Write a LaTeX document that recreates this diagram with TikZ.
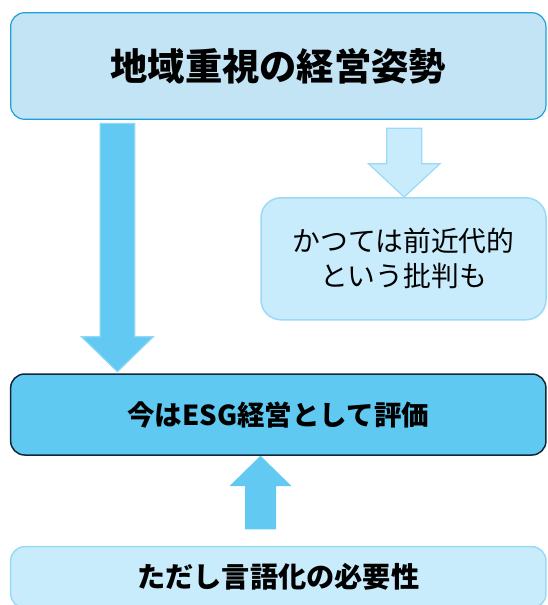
\documentclass[tikz,border=0pt]{standalone}
\usepackage{fontspec}
\setmainfont{Noto Sans CJK JP}
\usetikzlibrary{calc}
\definecolor{topfill}{HTML}{C2E4F4}
\definecolor{topline}{HTML}{1EA0DA}
\definecolor{midfill}{HTML}{5FC9F2}
\definecolor{midline}{HTML}{10293A}
\definecolor{palefill}{HTML}{C8ECFB}
\definecolor{paleline}{HTML}{9BD9F6}
\definecolor{arrfill}{HTML}{62C9F2}
\definecolor{arrline}{HTML}{8FD8F6}
\tikzset{
  box/.style={rounded corners=14pt, line width=1.2pt, inner sep=0pt, align=center, text=black},
  topbox/.style={box, fill=topfill, draw=topline, minimum width=535.3pt, minimum height=106.6pt, font=\fontsize{37.3}{44}\selectfont\bfseries},
  midbox/.style={box, fill=midfill, draw=midline, line width=1.5pt, minimum width=535.3pt, minimum height=81pt, font=\fontsize{27.5}{32}\selectfont\bfseries},
  sidebox/.style={box, rounded corners=20pt, fill=palefill, draw=paleline, line width=1.5pt, minimum width=285pt, minimum height=122pt, font=\fontsize{27.8}{35}\selectfont},
  botbox/.style={box, fill=palefill, draw=paleline, line width=1.5pt, minimum width=535.3pt, minimum height=61pt, font=\fontsize{28.2}{32}\selectfont\bfseries},
  bigarrow/.style={fill=arrfill, draw=arrline, line width=1.2pt, line join=miter},
  palearrow/.style={fill=palefill, draw=paleline, line width=1.2pt, line join=miter},
  uparrow/.style={fill=arrfill, draw=none}
}
% #1 style, #2 start coord, #3 end coord, #4 shaft half width, #5 head half width, #6 head length (signed, toward start)
\newcommand{\myblockarrow}[6]{%
  \draw[#1] let \p1=(#2), \p2=(#3) in
    (\x1-#4,\y1) -- (\x1+#4,\y1) -- (\x1+#4,\y2#6) -- (\x1+#5,\y2#6) --
    (\x2,\y2) -- (\x1-#5,\y2#6) -- (\x1-#4,\y2#6) -- cycle;}
\begin{document}
\begin{tikzpicture}[x=1pt,y=-1pt]
\useasboundingbox (0,0) rectangle (547,605);
\clip (0,0) rectangle (547,605);
\node[topbox] (top) at (278.3,66) {地域重視の経営姿勢};
\node[sidebox] (side) at (403.5,258.8) {かつては前近代的\\という批判も};
\node[midbox] (mid) at (278.3,414.5) {今はESG経営として評価};
\node[botbox] (bot) at (278.3,577.2) {ただし言語化の必要性};
% left long arrow
\path (117.4,123.5) coordinate (las) (117.4,371.7) coordinate (lae);
\myblockarrow{bigarrow}{las}{lae}{17.3pt}{36pt}{+35pt}
% small arrow to side box
\path (404.2,128.3) coordinate (sas);
\coordinate (sae) at (side.north -| sas);
\myblockarrow{palearrow}{sas}{sae}{17.5pt}{35.8pt}{+33.4pt}
% up arrow from bottom box to mid box
\path (260.5,529.3) coordinate (uas);
\coordinate (uae) at (mid.south -| uas);
\myblockarrow{uparrow}{uas}{uae}{15.5pt}{31pt}{-30.3pt}
\end{tikzpicture}
\end{document}
